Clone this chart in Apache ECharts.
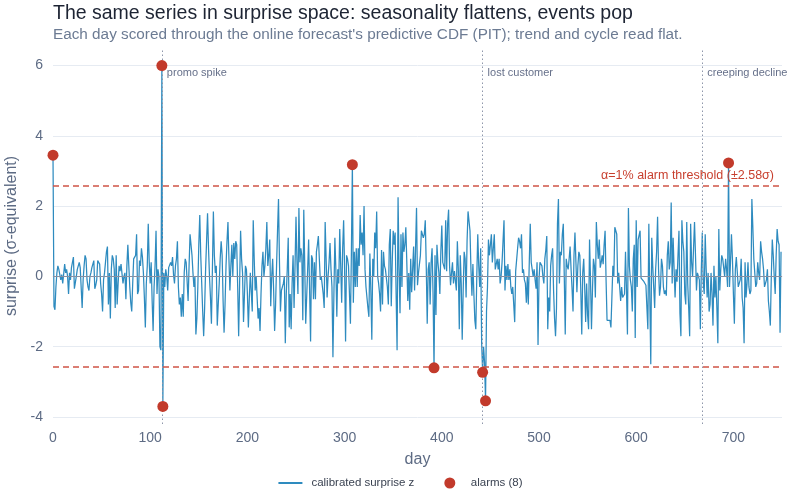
<!DOCTYPE html>
<html><head><meta charset="utf-8">
<script src="https://cdn.jsdelivr.net/npm/echarts@6/dist/echarts.min.js"></script>
<style>html,body{margin:0;padding:0;background:#fff}#c{width:800px;height:500px}</style>
</head><body><div id="c"></div>
<script>
// calibrated surprise z, one value per day (days 0..749) in blocks
const zDays0to64 = [3.45,-0.85,-0.95,-0.3,0.1,0.3,0.2,0.15,-0.1,0.05,-0.2,-0.15,0.35,0.1,0.2,0.0,-0.5,0.1,-0.1,0.25,0.3,0.55,-0.35,-0.3,0.0,0.2,0.3,0.4,0.25,0.2,-0.9,-0.1,0.3,0.6,0.5,-0.1,-0.3,-0.4,0.0,0.1,0.25,0.3,0.45,-0.35,-0.25,-0.1,0.45,0.4,0.35,-0.2,-0.5,-1.0,-0.1,0.1,0.4,0.7,0.85,-0.8,0.1,-1.2,0.2,0.6,0.5,0.2,-0.9];
const zDays65to132 = [0.6,-0.8,-0.2,0.3,0.15,0.35,0.4,-0.2,0.0,0.1,-0.65,0.3,0.9,0.3,-0.3,-0.75,-1.0,-0.2,0.5,0.45,0.6,1.2,-0.5,-0.4,0.45,0.3,0.8,0.55,0.1,-0.6,-1.45,-0.2,0.3,1.5,0.4,-0.2,0.4,-0.7,-1.55,-0.3,0.3,1.3,-0.5,0.2,0.0,-2.0,-2.1,6.0,-3.7,0.1,-0.3,0.2,0.0,-0.4,0.25,0.2,0.4,0.3,0.55,0.05,-0.2,0.3,0.5,1.0,-0.3,-0.8,-0.6,-1.15];
const zDays133to200 = [-0.5,-1.15,0.1,0.5,0.4,0.35,-0.7,0.3,1.2,0.9,0.6,0.1,-0.3,0.0,-1.65,-1.2,-0.3,0.9,1.75,0.6,-0.2,-1.0,-1.7,-0.9,0.2,1.0,1.8,0.8,0.0,-0.6,-1.35,0.2,1.85,0.6,0.1,0.3,-1.4,-0.8,-0.2,0.5,1.0,0.6,-0.7,-1.6,-0.8,0.3,1.0,1.55,0.5,-0.4,0.3,0.9,0.0,0.95,0.5,1.0,0.9,-0.3,-1.7,-0.2,1.3,0.5,0.1,-1.3,-0.5,0.3,0.2,-0.5];
const zDays201to268 = [-1.45,-0.6,0.1,0.1,-1.0,1.6,0.5,-0.4,0.0,-0.6,-1.2,-0.9,-1.55,-0.5,0.3,0.7,0.0,0.3,0.8,1.55,0.3,0.6,1.05,-0.85,0.0,0.5,-0.4,-1.55,-0.8,0.3,1.3,2.2,0.4,-1.0,-0.4,-0.45,-0.2,0.0,-1.9,-0.5,0.2,1.1,-1.45,-0.5,-1.5,-0.2,0.6,-0.9,0.3,1.7,0.4,-0.5,1.95,0.4,0.8,0.6,-1.25,1.9,0.3,-1.35,-1.3,0.2,1.05,-0.4,-1.85,0.6,0.5,-0.65];
const zDays269to336 = [0.4,-0.65,0.7,0.9,1.15,0.5,-0.1,0.0,-0.05,-0.5,-0.9,1.55,0.5,-0.6,0.0,0.4,0.95,0.2,-0.3,-2.3,-0.5,1.1,0.2,-1.15,0.2,-0.2,1.35,0.3,-0.75,0.8,1.6,0.2,-1.85,0.6,0.5,0.3,-0.5,-1.35,0.7,3.18,-0.75,0.7,-0.3,0.8,-0.3,0.8,0.3,1.75,0.9,1.25,0.6,2.0,0.2,-0.3,-0.6,-0.9,-1.15,0.65,-0.4,-1.8,0.5,0.0,1.25,0.8,1.85,0.0,-0.2,-0.5];
const zDays337to404 = [-1.0,0.75,-0.8,0.7,0.3,0.2,0.25,-0.3,-0.8,0.9,1.35,-0.85,0.4,1.3,0.9,1.25,-0.5,-2.1,2.25,0.3,-1.05,1.2,-0.3,1.25,0.7,0.9,1.4,0.4,-0.7,0.1,-0.95,0.5,-0.45,0.2,0.85,-0.4,0.8,1.95,-0.25,0.1,0.15,0.6,1.3,1.35,1.1,1.2,1.6,0.3,-1.35,0.2,0.4,-0.8,0.4,0.8,-0.5,-2.6,0.6,-1.1,0.9,0.4,0.1,-0.5,0.7,1.45,0.4,0.4,0.2,1.6];
const zDays405to472 = [0.15,1.5,1.9,0.3,-0.25,0.1,0.4,-0.2,0.15,0.1,-0.4,1.0,0.2,-1.5,0.6,-0.2,-1.8,-0.4,0.7,0.5,-0.6,1.0,1.85,1.9,1.3,0.2,-0.55,0.35,-0.5,-1.25,-1.5,0.0,1.2,0.3,-0.3,0.8,-1.9,-2.73,-2.0,-2.45,-3.54,-1.0,-0.3,1.05,0.6,0.9,1.2,0.4,0.8,1.2,0.2,0.35,0.5,0.2,0.5,-0.2,0.0,0.4,1.0,1.6,-0.4,0.3,-0.1,0.35,-0.1,0.2,-0.3,-0.5];
const zDays473to540 = [-0.3,-0.8,-1.3,0.15,0.1,0.8,1.1,1.0,0.8,1.2,0.1,0.2,-0.1,-0.2,-0.75,0.0,-0.8,0.4,1.5,0.4,0.35,0.0,0.2,-0.1,-0.35,0.4,-1.95,-0.1,0.4,0.35,0.3,0.0,-0.2,0.5,0.75,1.15,-1.5,-0.6,-1.0,0.3,0.6,0.8,-0.4,-1.2,-1.7,-0.9,1.5,2.2,-0.2,0.7,0.6,1.2,1.5,0.0,-1.65,0.5,0.3,0.2,0.5,0.85,0.2,-0.35,-1.0,0.6,1.25,0.4,-0.45,0.3];
const zDays541to608 = [0.7,0.6,-0.4,-1.65,0.1,0.5,-0.3,-1.3,-0.2,-1.1,-1.5,1.05,-0.1,-1.5,-0.4,0.5,0.3,-0.6,1.55,0.9,0.5,1.05,0.25,0.4,0.6,0.35,0.9,1.3,-0.1,-1.25,-1.3,-1.2,-1.25,-1.45,-0.6,0.3,0.0,1.4,1.3,1.2,-0.2,0.1,-0.3,-0.7,-0.3,-0.6,-0.55,-0.5,0.7,-0.4,-1.65,1.95,0.3,-0.1,-0.3,-1.0,0.5,0.9,-1.75,1.6,-0.3,1.05,1.1,1.3,-0.05,-0.1,-0.1,-0.15];
const zDays609to676 = [-0.15,-0.25,-0.3,-1.5,1.5,-0.6,-2.5,1.1,0.3,-0.3,-0.9,0.2,0.7,1.7,0.2,-0.55,-0.3,0.5,0.3,-0.3,-0.5,-0.4,-0.55,0.6,1.0,0.2,0.4,2.1,-0.2,1.1,0.2,-0.6,0.2,-0.15,0.6,1.3,-1.05,-1.7,1.6,1.0,0.7,-0.5,-0.8,1.55,-0.2,-0.9,-1.7,1.5,0.4,0.0,0.8,1.55,0.6,-0.4,0.1,0.0,-0.1,-1.5,0.2,1.25,-0.2,-0.5,1.2,0.2,-0.6,0.1,-1.0,-0.8];
const zDays677to749 = [0.1,-0.5,-1.4,0.3,-0.6,0.0,-0.9,-1.9,1.35,-0.4,0.2,0.6,0.5,0.5,0.0,0.5,0.2,-0.3,3.23,-0.3,0.4,1.2,0.5,-0.5,-1.35,0.2,0.55,0.5,-0.3,-0.2,-0.1,0.5,-0.6,-0.9,-1.9,0.4,-0.6,-0.2,0.4,-0.3,-0.5,-0.4,2.2,1.4,0.5,0.5,-0.3,-0.2,0.4,0.1,-0.1,1.0,0.7,0.5,0.2,-0.3,-0.2,-0.1,0.2,-0.7,-1.0,-1.4,0.0,1.05,0.6,0.0,-0.5,0.6,1.35,1.0,0.9,-1.6,0.7];

const eventDays = [112, 442, 668];
const eventNames = ['promo spike', 'lost customer', 'creeping decline'];
const alarmThreshold = 2.58;
const yTicks = [-4, -2, 0, 2, 4, 6];
const xMin = 0, xMax = 750, xStep = 100;
const yMin = -4.2, yMax = 6.5;

const z = [].concat(zDays0to64, zDays65to132, zDays133to200, zDays201to268, zDays269to336,
  zDays337to404, zDays405to472, zDays473to540, zDays541to608, zDays609to676, zDays677to749);
const lineData = z.map((v, i) => [i, v]);
const alarmData = lineData.filter(p => Math.abs(p[1]) > alarmThreshold);

const FONT = '"Liberation Sans", Arial, Helvetica, sans-serif';
const AX = '#5d6b84';
const chart = echarts.init(document.getElementById('c'), null, {renderer: 'canvas'});
chart.setOption({
  animation: false,
  backgroundColor: '#ffffff',
  textStyle: {fontFamily: FONT},
  title: {
    text: 'The same series in surprise space: seasonality flattens, events pop',
    subtext: "Each day scored through the online forecast's predictive CDF (PIT); trend and cycle read flat.",
    left: 48, top: -1, itemGap: 3,
    textStyle: {fontFamily: FONT, fontSize: 19.5, fontWeight: 'normal', color: '#1d2433'},
    subtextStyle: {fontFamily: FONT, fontSize: 15.3, color: '#6c7b93'}
  },
  legend: {
    bottom: 6, left: 'center', itemGap: 30, itemWidth: 24, itemHeight: 11,
    textStyle: {fontFamily: FONT, fontSize: 11.5, color: '#3b4352', padding: [0, 0, 0, 4]},
    data: [{name: 'calibrated surprise z', itemStyle: {opacity: 0}}, {name: 'alarms (' + alarmData.length + ')'}]
  },
  grid: {left: 53, right: 18, top: 48, bottom: 76, containLabel: false, outerBoundsMode: 'none'},
  xAxis: {
    type: 'value', min: xMin, max: xMax, interval: xStep,
    name: 'day', nameLocation: 'middle', nameGap: 28,
    nameTextStyle: {fontFamily: FONT, fontSize: 16, color: AX},
    axisLine: {show: true, lineStyle: {color: '#dfe5ee', width: 1}},
    axisTick: {show: false},
    axisLabel: {color: AX, fontSize: 14, margin: 7, fontFamily: FONT, showMaxLabel: false},
    splitLine: {show: false}
  },
  yAxis: {
    type: 'value', min: yMin, max: yMax,
    name: 'surprise (σ-equivalent)', nameLocation: 'middle', nameGap: 31,
    nameTextStyle: {fontFamily: FONT, fontSize: 16, color: AX},
    axisLine: {show: false},
    axisTick: {show: false, customValues: yTicks},
    axisLabel: {color: AX, fontSize: 14, margin: 10, fontFamily: FONT, customValues: yTicks},
    splitLine: {show: true, lineStyle: {color: '#e6ebf2', width: 1}}
  },
  series: [
    {
      name: 'calibrated surprise z', type: 'line', data: lineData,
      symbol: 'none', showSymbol: false, z: 3,
      lineStyle: {color: '#2e8bbf', width: 1.25},
      itemStyle: {color: '#2e8bbf'},
      markLine: {
        silent: true, symbol: 'none', animation: false,
        data: [
          {yAxis: 0, lineStyle: {color: '#8790a2', width: 1, type: 'solid'}, label: {show: false}},
          {yAxis: alarmThreshold, lineStyle: {color: '#cf5445', width: 1.5, type: [6, 4]},
            label: {show: true, position: 'insideEndTop', formatter: 'α=1% alarm threshold (±2.58σ)',
              color: '#c8402f', fontSize: 12.5, fontFamily: FONT, distance: [8, 4]}},
          {yAxis: -alarmThreshold, lineStyle: {color: '#cf5445', width: 1.5, type: [6, 4]}, label: {show: false}}
        ].concat(eventDays.map(d => ({xAxis: d, lineStyle: {color: '#8e97aa', width: 1, type: [1.5, 2.5]}, label: {show: false}})))
      },
      markPoint: {
        silent: true, symbol: 'circle', symbolSize: 0, animation: false,
        data: eventDays.map((d, i) => ({coord: [d, yMax], name: eventNames[i],
          label: {show: true, position: 'right', distance: 5, offset: [0, 25], formatter: eventNames[i],
            color: '#66708a', fontSize: 11, fontFamily: FONT}}))
      }
    },
    {
      name: 'alarms (' + alarmData.length + ')', type: 'scatter', data: alarmData,
      symbol: 'circle', symbolSize: 11, z: 5,
      itemStyle: {color: '#c23a2b', opacity: 1}
    }
  ]
});
</script></body></html>
